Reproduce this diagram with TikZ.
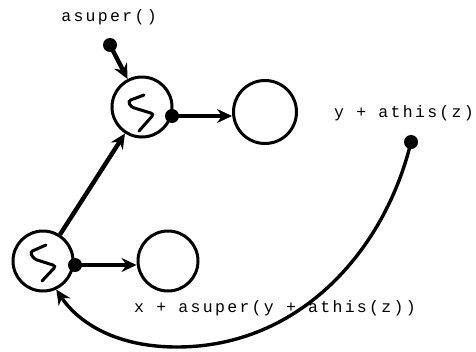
\documentclass[tikz,border=0pt]{standalone}
\usepackage{fontspec}
\setmonofont{Liberation Mono}[LetterSpace=14]
\usetikzlibrary{arrows.meta}
\begin{document}
\begin{tikzpicture}[x=1pt,y=-1pt,
  ring/.style={circle,draw,line width=3pt,minimum size=60pt,inner sep=0pt},
  dot/.style={circle,fill,inner sep=0pt,minimum size=14pt},
  tip/.style={-{Stealth[length=15pt,width=14pt,inset=5pt]}},
  arr/.style={line width=4.4pt,tip},
  squig/.style={line width=3pt,rounded corners=3pt,line cap=round},
  lbl/.style={font=\fontsize{16.5}{20}\selectfont\ttfamily,inner sep=0pt}]
\useasboundingbox (0,0) rectangle (476,351);
% nodes
\node[ring] (s1) at (142,107) {};
\node[ring,minimum size=63pt] (r1) at (265,112) {};
\node[ring] (s2) at (43,261) {};
\node[ring] (r2) at (168,261) {};
\node[dot] (d0) at (110,45) {};
\node[dot] (d1) at (172,116) {};
\node[dot] (d2) at (75,265) {};
\node[dot] (d3) at (411,142) {};
% squiggles
\draw[squig] (144,95) -- (128,101) -- (131,107) -- (154,114) -- (139,131);
\draw[squig] (46,245) -- (30,252) -- (34,259) -- (56,266) -- (42,281);
% labels
\node[lbl] (t0) at (109,17) {asuper()};
\node[lbl] (t1) at (404,113) {y + athis(z)};
\node[lbl] (t2) at (275,308) {x + asuper(y + athis(z))};
% connectors
\draw[arr] (d0.center) -- (s1);
\draw[arr] (d1.center) -- (d1.center -| r1.west);
\draw[arr] (d2.center) -- (d2.center -| r2.west);
\draw[arr] (s2) -- (s1);
\draw[line width=3.4pt,tip] (d3.center) .. controls (385,250) and (300,347) .. (177,347) .. controls (110,347) and (75,318) .. (s2.-65);
\end{tikzpicture}
\end{document}
